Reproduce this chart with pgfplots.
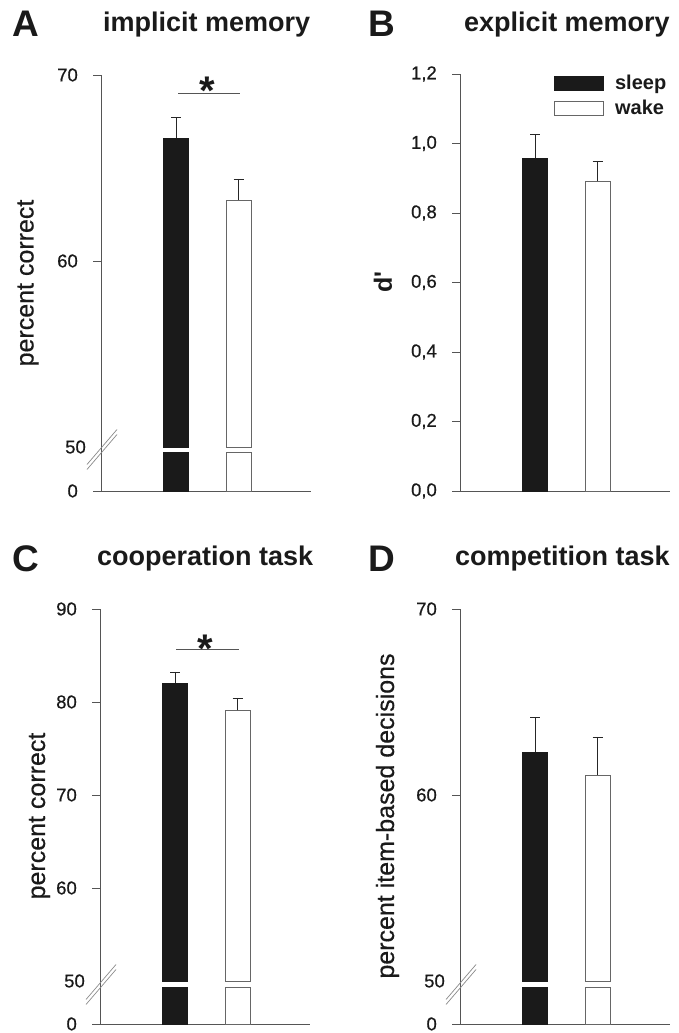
\documentclass[border=0pt]{standalone}
\usepackage{fontspec}
\setmainfont{Liberation Sans}
\newfontfamily\semi{Liberation Sans}[FakeBold=0.5]
\newfontfamily\nomap{Liberation Sans}
\usepackage{pgfplots}
\pgfplotsset{compat=1.18}

\definecolor{axisgray}{HTML}{555555}
\definecolor{barblack}{HTML}{1A1A1A}
\definecolor{outl}{HTML}{666666}
\definecolor{brk}{HTML}{8A8A8A}
\definecolor{txt}{HTML}{1A1A1A}

\pgfplotsset{
  base/.style={
    scale only axis, width=210pt,
    xmin=0, xmax=4.2,
    xtick=\empty,
    /pgf/number format/assume math mode=true,
    ybar, bar width=25pt, bar shift=0pt,
    clip=false,
  },
  finish/.style={
    axis line style={axisgray, line width=0.9pt},
    x axis line style={-}, y axis line style={-},
    tick style={axisgray, line width=0.9pt},
    major tick length=8pt,
    tick align=outside,
    yticklabel style={font=\semi\fontsize{18.5}{18.5}\selectfont, text=txt, inner sep=0pt, xshift=-15pt},
  },
  upper/.style={base, axis y line=left, axis x line=none, ymin=50,
    y coord trafo/.code={\pgfmathparse{##1-50}},
    y coord inv trafo/.code={\pgfmathparse{##1+50}},
    extra y ticks={50}, finish, extra y tick style={major tick length=0pt}},
  lower/.style={base, axis y line=left, axis x line=bottom, ymin=0, ymax=50,
    ytick={0}, restrict y to domain*=0:50, finish},
  bk/.style={fill=barblack, draw=barblack, line width=0.8pt},
  wh/.style={fill=white, draw=outl, line width=0.8pt},
  eb/.style={error bars/.cd, y dir=plus, y explicit,
    error bar style={black!85, line width=0.9pt},
    error mark options={rotate=90, mark size=5pt, black!85, line width=0.9pt}},
}

\begin{document}
\begin{tikzpicture}[x=1pt,y=1pt]
\path[use as bounding box] (0,0) rectangle (678,1033);

% ---------------- Panel A ----------------
\begin{axis}[upper, at={(101pt,586pt)}, anchor=south west, height=372pt, ymax=70, ytick={60,70}]
\addplot[bk, eb] coordinates {(1.5,66.6) +- (0,1.14)};
\addplot[wh, eb] coordinates {(2.75,63.28) +- (0,1.13)};
\addplot[sharp plot, axisgray, line width=0.8pt, mark=none] coordinates {(1.54,69.03) (2.78,69.03)};
\node[anchor=base, font=\bfseries\fontsize{40}{40}\selectfont, text=txt] at (axis cs:2.12,68.4) {*};
\end{axis}
\begin{axis}[lower, at={(101pt,542pt)}, anchor=south west, height=39pt]
\addplot[bk] coordinates {(1.5,66.6)};
\addplot[wh] coordinates {(2.75,63.28)};
\end{axis}
\draw[axisgray, line width=0.9pt] (101,580.5) -- (101,586.5);
\draw[brk, line width=0.7pt] (87,568.5) -- (117,603.5);
\draw[brk, line width=0.7pt] (87,563.5) -- (117,598.5);

% ---------------- Panel B ----------------
\begin{axis}[base, axis y line=left, axis x line=bottom, finish, at={(460pt,542pt)}, anchor=south west,
  height=417pt, ymin=0, ymax=1.2, ytick={0,0.2,0.4,0.6,0.8,1.0,1.2},
  yticklabel style={/pgf/number format/.cd, fixed, fixed zerofill, precision=1, use comma},
  legend style={at={(axis description cs:0.448,0.998)}, anchor=north west, draw=none, fill=none,
    inner sep=0pt, row sep=9pt, font=\bfseries\fontsize{20}{20}\selectfont, text=txt,
    nodes={inner sep=0pt, anchor=west}},
  legend image code/.code={\draw[#1] (0pt,-7pt) rectangle (49pt,7pt); \path (60pt,0pt);},
  ]
\addplot[bk, eb] coordinates {(1.5,0.958) +- (0,0.069)};
\addlegendentry{sleep}
\addplot[wh, eb] coordinates {(2.75,0.892) +- (0,0.055)};
\addlegendentry{wake}
\end{axis}

% ---------------- Panel C ----------------
\begin{axis}[upper, at={(100pt,52pt)}, anchor=south west, height=372pt, ymax=90, ytick={60,70,80,90}]
\addplot[bk, eb] coordinates {(1.5,82.04) +- (0,1.19)};
\addplot[wh, eb] coordinates {(2.75,79.1) +- (0,1.33)};
\addplot[sharp plot, axisgray, line width=0.8pt, mark=none] coordinates {(1.52,85.7) (2.78,85.7)};
\node[anchor=base, font=\bfseries\fontsize{40}{40}\selectfont, text=txt] at (axis cs:2.1,84.3) {*};
\end{axis}
\begin{axis}[lower, at={(100pt,9pt)}, anchor=south west, height=37pt]
\addplot[bk] coordinates {(1.5,82.04)};
\addplot[wh] coordinates {(2.75,79.1)};
\end{axis}
\draw[axisgray, line width=0.9pt] (100,45.5) -- (100,52.5);
\draw[brk, line width=0.7pt] (86,33.5) -- (116,68.5);
\draw[brk, line width=0.7pt] (86,28.5) -- (116,63.5);

% ---------------- Panel D ----------------
\begin{axis}[upper, at={(460pt,52pt)}, anchor=south west, height=372pt, ymax=70, ytick={60,70}]
\addplot[bk, eb] coordinates {(1.5,62.31) +- (0,1.88)};
\addplot[wh, eb] coordinates {(2.75,61.08) +- (0,2.04)};
\end{axis}
\begin{axis}[lower, at={(460pt,9pt)}, anchor=south west, height=37pt]
\addplot[bk] coordinates {(1.5,62.31)};
\addplot[wh] coordinates {(2.75,61.08)};
\end{axis}
\draw[axisgray, line width=0.9pt] (460,45.5) -- (460,52.5);
\draw[brk, line width=0.7pt] (446,33.5) -- (476,68.5);
\draw[brk, line width=0.7pt] (446,28.5) -- (476,63.5);

% ---------------- titles and labels ----------------
\node[anchor=base west, inner sep=0pt, font=\bfseries\fontsize{37}{37}\selectfont, text=txt] at (12,996) {A};
\node[anchor=base west, inner sep=0pt, font=\bfseries\fontsize{27}{27}\selectfont, text=txt] at (103,1001) {implicit memory};
\node[anchor=base west, inner sep=0pt, font=\bfseries\fontsize{37}{37}\selectfont, text=txt] at (368,996) {B};
\node[anchor=base west, inner sep=0pt, font=\bfseries\fontsize{27}{27}\selectfont, text=txt] at (464,1001) {explicit memory};
\node[anchor=base west, inner sep=0pt, font=\bfseries\fontsize{37}{37}\selectfont, text=txt] at (12,461) {C};
\node[anchor=base west, inner sep=0pt, font=\bfseries\fontsize{27}{27}\selectfont, text=txt] at (97,467) {cooperation task};
\node[anchor=base west, inner sep=0pt, font=\bfseries\fontsize{37}{37}\selectfont, text=txt] at (368,461) {D};
\node[anchor=base west, inner sep=0pt, font=\bfseries\fontsize{27}{27}\selectfont, text=txt] at (455,467) {competition task};

\node[rotate=90, inner sep=0pt, font=\semi\fontsize{25}{25}\selectfont, text=txt] at (28,750) {percent correct};
\node[rotate=90, inner sep=0pt, font=\nomap\bfseries\fontsize{25}{25}\selectfont, text=txt] at (383,751) {d'};
\node[rotate=90, inner sep=0pt, font=\semi\fontsize{25}{25}\selectfont, text=txt] at (39.5,217) {percent correct};
\node[rotate=90, inner sep=0pt, font=\semi\fontsize{25}{25}\selectfont, text=txt] at (387.5,217) {percent item-based decisions};
\end{tikzpicture}
\end{document}
